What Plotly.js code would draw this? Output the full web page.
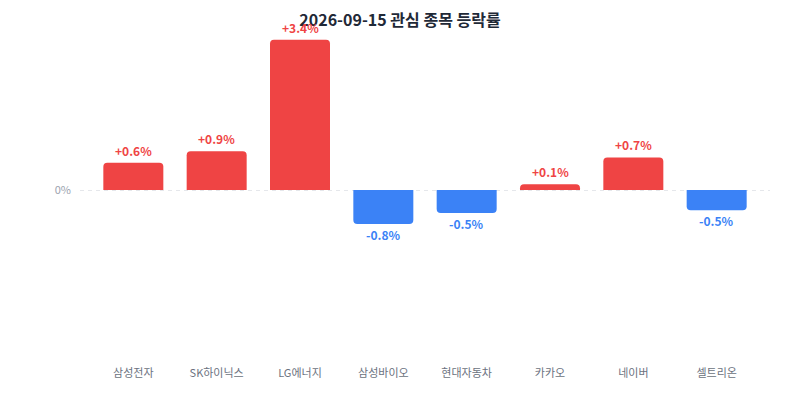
<!DOCTYPE html>
<html>
<head>
<meta charset="utf-8">
<script src="https://cdn.plot.ly/plotly-3.0.1.min.js"></script>
<style>
  body { margin: 0; background: #fff; }
  #chart { width: 800px; height: 400px; }
</style>
</head>
<body>
<div id="chart"></div>
<script>
// stock names and daily change (%)
var stocks = ['삼성전자', 'SK하이닉스', 'LG에너지', '삼성바이오', '현대자동차', '카카오', '네이버', '셀트리온'];
var changes = [0.62, 0.88, 3.41, -0.77, -0.52, 0.13, 0.74, -0.46];

var UP = '#ef4444';
var DOWN = '#3b82f6';
var FONT = '"Noto Sans CJK KR", "Noto Sans", sans-serif';

function fmt(v) {
  return (v > 0 ? '+' : '') + v.toFixed(1) + '%';
}

var colors = changes.map(function(v) { return v >= 0 ? UP : DOWN; });

var trace = {
  x: stocks,
  y: changes,
  type: 'bar',
  marker: { color: colors, cornerradius: 4 },
  hoverinfo: 'none'
};

// value labels above / below each bar
var notes = [];
for (var i = 0; i < stocks.length; i++) {
  var pos = changes[i] >= 0;
  notes.push({
    x: stocks[i],
    y: changes[i],
    text: '<b>' + fmt(changes[i]) + '</b>',
    showarrow: false,
    yanchor: pos ? 'bottom' : 'top',
    yshift: pos ? 2 : 0,
    font: { family: FONT, size: 12, color: pos ? UP : DOWN }
  });
}

var layout = {
  width: 800,
  height: 400,
  margin: { l: 80, r: 30, t: 15, b: 35 },
  paper_bgcolor: '#fff',
  plot_bgcolor: '#fff',
  showlegend: false,
  bargap: 0.28,
  title: {
    text: '<b>2026-09-15 관심 종목 등락률</b>',
    x: 0.5,
    xanchor: 'center',
    yref: 'container',
    y: 0.948,
    yanchor: 'middle',
    font: { family: FONT, size: 16, color: '#1f2937' }
  },
  xaxis: {
    range: [-0.64, 7.64],
    showgrid: false,
    zeroline: false,
    showline: false,
    ticks: '',
    tickfont: { family: FONT, size: 11, color: '#6b7280' },
    fixedrange: true
  },
  yaxis: {
    range: [-3.97, 3.97],
    tickvals: [0],
    ticktext: ['0%'],
    showgrid: true,
    gridcolor: '#e5e7eb',
    griddash: '4px,4px',
    gridwidth: 1,
    zeroline: false,
    showline: false,
    ticks: '',
    ticklabelstandoff: 8,
    tickfont: { family: FONT, size: 11, color: '#9ca3af' },
    fixedrange: true
  },
  annotations: notes
};

Plotly.newPlot('chart', [trace], layout, { displayModeBar: false, staticPlot: true });
</script>
</body>
</html>
